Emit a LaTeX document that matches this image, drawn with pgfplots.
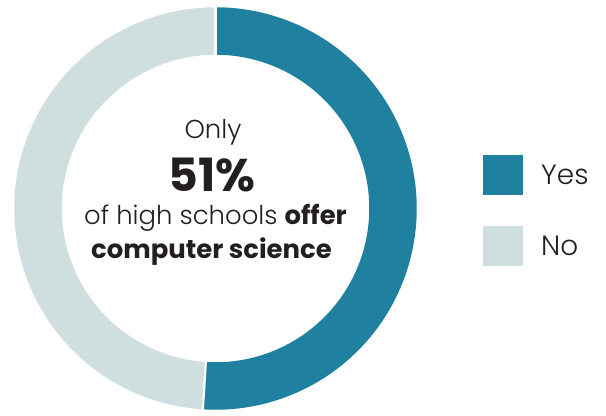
\documentclass[border=0pt]{standalone}
\usepackage{pgfplots}
\pgfplotsset{compat=1.18}
\usepackage{pgfplotstable}
\usepackage{fontspec}
\setmainfont{Poppins}[UprightFont=* Light, BoldFont=* Bold]
\definecolor{yescol}{RGB}{31,128,160}
\definecolor{nocol}{RGB}{207,222,222}
\definecolor{txt}{RGB}{35,31,32}
\pgfplotstableread{
label value
Yes 51
No 49
}\sharetable
\begin{document}
\begin{tikzpicture}
\pgfplotstablegetelem{0}{value}\of\sharetable
\pgfmathsetmacro{\yesang}{3.6*\pgfplotsretval}
\begin{axis}[
  width=606bp, height=414bp, scale only axis,
  xmin=0, xmax=606, ymin=0, ymax=414, y dir=reverse,
  axis lines=none, clip=false,
  legend style={at={(axis cs:483,155)}, anchor=north west, draw=none, fill=none,
    font=\fontsize{28}{32}\selectfont, text=txt, row sep=31bp, column sep=18bp, inner sep=0pt,
    nodes={inner sep=0pt}, legend cell align=left},
  legend image code/.code={\fill[#1] (0bp,-20bp) rectangle (40bp,20bp);},
]
\path (axis cs:0,0) rectangle (axis cs:606,414);
\def\cx{215.5}\def\cy{208.5}\def\rmid{177.5}
\addplot[draw=yescol, line width=47.5bp, domain=0:\yesang, samples=200, forget plot]
  ({\cx+\rmid*sin(x)},{\cy-\rmid*cos(x)});
\addplot[draw=nocol, line width=47.5bp, domain=\yesang:360, samples=200, forget plot]
  ({\cx+\rmid*sin(x)},{\cy-\rmid*cos(x)});
\addplot[draw=white, line width=2.2bp, domain=150:206, samples=2, forget plot]
  ({\cx+x*sin(0)},{\cy-x*cos(0)});
\addplot[draw=white, line width=2.2bp, domain=150:206, samples=2, forget plot]
  ({\cx+x*sin(\yesang)},{\cy-x*cos(\yesang)});
\addlegendimage{fill=yescol, draw=none}
\addlegendentry{Yes}
\addlegendimage{fill=nocol, draw=none}
\addlegendentry{No}
\node[anchor=base, text=txt, font=\fontsize{26}{30}\selectfont] at (axis cs:213,139) {Only};
\node[anchor=base, text=txt, font=\fontsize{46}{50}\selectfont\bfseries] at (axis cs:212,191) {51\%};
\node[anchor=base, text=txt, font=\fontsize{26}{30}\selectfont] at (axis cs:215.5,224) {of high schools \textbf{offer}};
\node[anchor=base, text=txt, font=\fontsize{26}{30}\selectfont\bfseries] at (axis cs:211.5,258) {computer science};
\end{axis}
\end{tikzpicture}
\end{document}
